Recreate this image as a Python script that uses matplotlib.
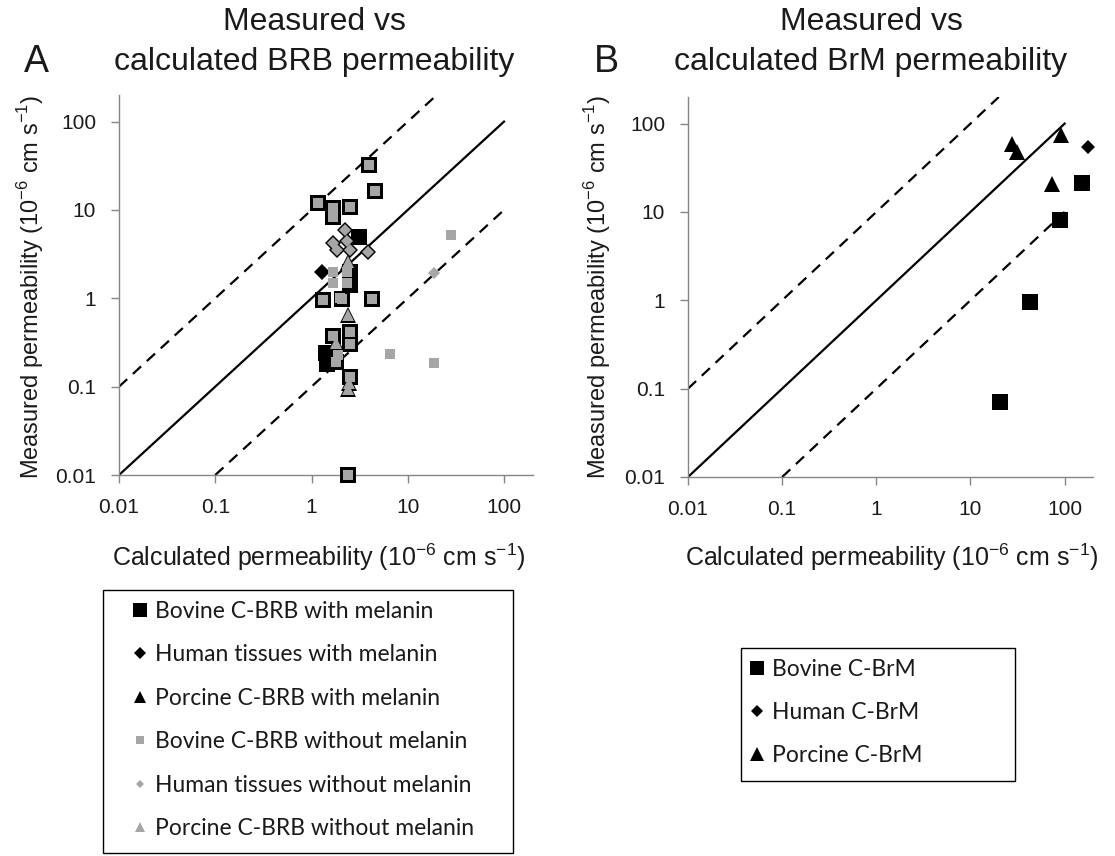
import matplotlib
matplotlib.use("Agg")
import matplotlib.pyplot as plt
from matplotlib.lines import Line2D
from matplotlib.patches import Rectangle
from matplotlib.ticker import FixedLocator, NullLocator, FixedFormatter

plt.rcParams['font.family'] = ['Liberation Sans', 'DejaVu Sans']

# ---------------- data: panel A (BRB) ----------------
bov_mel_x = [4.0, 4.6, 1.17, 1.69, 1.69, 2.5, 4.2, 1.33, 2.06, 1.69, 2.5, 2.5, 1.8, 2.5, 2.41,
             3.1, 1.42, 1.45, 2.5, 2.5]
bov_mel_y = [32, 16.4, 11.9, 10.4, 8.4, 10.7, 0.97, 0.96, 0.97, 0.37, 0.42, 0.30, 0.19, 0.13, 0.01,
             4.9, 0.24, 0.18, 2.0, 1.43]

hum_mel_x = [2.23, 1.69, 2.32, 1.83, 2.5, 3.9, 1.3]
hum_mel_y = [5.9, 4.2, 4.4, 3.5, 3.5, 3.3, 2.0]

por_mel_x = [2.41, 2.41, 1.8, 2.45, 2.4]
por_mel_y = [2.6, 0.65, 0.31, 0.11, 0.095]

bov_nomel_x = [4.0, 4.6, 1.17, 1.69, 1.69, 2.5, 4.2, 1.33, 2.06, 1.69, 2.5, 2.5, 1.8, 2.5, 2.41,
               1.69, 2.33, 1.69, 2.33, 1.98, 1.88, 28, 6.5, 18.7]
bov_nomel_y = [32, 16.4, 11.9, 10.4, 8.4, 10.7, 0.97, 0.96, 0.97, 0.37, 0.42, 0.30, 0.19, 0.13, 0.01,
               2.0, 2.0, 1.49, 1.49, 1.0, 0.23, 5.2, 0.234, 0.184]

hum_nomel_x = [2.23, 1.69, 2.32, 1.83, 2.5, 3.9, 18.7]
hum_nomel_y = [5.9, 4.2, 4.4, 3.5, 3.5, 3.3, 1.95]

por_nomel_x = [2.41, 2.41, 1.8, 2.45, 2.4]
por_nomel_y = [2.6, 0.65, 0.31, 0.11, 0.095]

# ---------------- data: panel B (BrM) ----------------
bov_brm_x = [20.4, 42.5, 89, 151]
bov_brm_y = [0.07, 0.95, 8.2, 21]
hum_brm_x = [179]
hum_brm_y = [55]
por_brm_x = [27.5, 31, 74, 91]
por_brm_y = [59, 48, 20.5, 75]

tick_vals = [0.01, 0.1, 1, 10, 100]
tick_labels = ['0.01', '0.1', '1', '10', '100']

legend_a_labels = ['Bovine C-BRB with melanin', 'Human tissues with melanin',
                   'Porcine C-BRB with melanin', 'Bovine C-BRB without melanin',
                   'Human tissues without melanin', 'Porcine C-BRB without melanin']
legend_b_labels = ['Bovine C-BrM', 'Human C-BrM', 'Porcine C-BrM']

GRAY = '#a6a6a6'
AXCOL = '#868686'
TXT = '#1a1a1a'
W, H = 1115, 856

fig = plt.figure(figsize=(W / 100, H / 100), dpi=100)

axA = fig.add_axes([119 / W, 1 - 475 / H, (533 - 119) / W, (475 - 95) / H])
axB = fig.add_axes([688 / W, 1 - 477 / H, (1093 - 688) / W, (477 - 97) / H])

XLAB = 'Calculated permeability (10$^{\\mathregular{-6}}$ cm s$^{\\mathregular{-1}}$)'
YLAB = 'Measured permeability (10$^{\\mathregular{-6}}$ cm s$^{\\mathregular{-1}}$)'


def style_axes(ax, xlab_pos, ylab_pos):
    ax.set_xscale('log')
    ax.set_yscale('log')
    ax.set_xlim(0.01, 200)
    ax.set_ylim(0.01, 200)
    for s in ['top', 'right']:
        ax.spines[s].set_visible(False)
    for s in ['left', 'bottom']:
        ax.spines[s].set_color(AXCOL)
        ax.spines[s].set_linewidth(1.0)
    ax.xaxis.set_major_locator(FixedLocator(tick_vals))
    ax.yaxis.set_major_locator(FixedLocator(tick_vals))
    ax.xaxis.set_major_formatter(FixedFormatter(tick_labels))
    ax.yaxis.set_major_formatter(FixedFormatter(tick_labels))
    ax.xaxis.set_minor_locator(NullLocator())
    ax.yaxis.set_minor_locator(NullLocator())
    ax.tick_params(axis='both', which='major', length=5.5, width=1.0, color=AXCOL,
                   labelsize=15, labelcolor=TXT)
    ax.tick_params(axis='y', pad=11)
    ax.tick_params(axis='x', pad=11)
    # reference lines
    ax.plot([0.01, 100], [0.01, 100], color='black', lw=1.6, zorder=2)
    ax.plot([0.01, 20], [0.1, 200], color='black', lw=1.6, ls=(0, (5, 3.5)), zorder=2)
    ax.plot([0.1, 100], [0.01, 10], color='black', lw=1.6, ls=(0, (5, 3.5)), zorder=2)
    ax.set_xlabel(XLAB, fontsize=18, color=TXT, va='center')
    ax.set_ylabel(YLAB, fontsize=17, color=TXT, va='center')
    ax.xaxis.set_label_coords(*xlab_pos)
    ax.yaxis.set_label_coords(*ylab_pos)


style_axes(axA, ((319 - 119) / 414, (475 - 557) / 380), ((31 - 119) / 414, (475 - 287) / 380))
style_axes(axB, ((892 - 688) / 405, (477 - 557) / 380), ((598 - 688) / 405, (477 - 287) / 380))

# panel A markers: with melanin (black, larger) under without melanin (gray, smaller)
axA.plot(bov_mel_x, bov_mel_y, ls='None', marker='s', ms=11.5, mfc='black', mec='black', mew=0, zorder=3, clip_on=False)
axA.plot(hum_mel_x, hum_mel_y, ls='None', marker='D', ms=8.3, mfc='black', mec='black', mew=0, zorder=3, clip_on=False)
axA.plot(por_mel_x, por_mel_y, ls='None', marker='^', ms=11, mfc='black', mec='black', mew=0, zorder=3, clip_on=False)
axA.plot(bov_nomel_x, bov_nomel_y, ls='None', marker='s', ms=7.4, mfc=GRAY, mec=GRAY, mew=0, zorder=4, clip_on=False)
axA.plot(hum_nomel_x, hum_nomel_y, ls='None', marker='D', ms=6.2, mfc=GRAY, mec=GRAY, mew=0, zorder=4, clip_on=False)
axA.plot(por_nomel_x, por_nomel_y, ls='None', marker='^', ms=8, mfc=GRAY, mec=GRAY, mew=0, zorder=4, clip_on=False)

# panel B markers
axB.plot(bov_brm_x, bov_brm_y, ls='None', marker='s', ms=11.5, color='black', mew=0, zorder=3, clip_on=False)
axB.plot(hum_brm_x, hum_brm_y, ls='None', marker='D', ms=7, color='black', mew=0, zorder=3, clip_on=False)
axB.plot(por_brm_x, por_brm_y, ls='None', marker='^', ms=12, color='black', mew=0, zorder=3, clip_on=False)

# titles and panel letters
for cx, l2 in [(314, 'calculated BRB permeability'), (871, 'calculated BrM permeability')]:
    fig.text(cx / W, 1 - 22 / H, 'Measured vs', ha='center', va='center', fontsize=23, color=TXT)
    fig.text(cx / W, 1 - 62 / H, l2, ha='center', va='center', fontsize=23, color=TXT)
fig.text(36 / W, 1 - 62 / H, 'A', ha='center', va='center', fontsize=27, color=TXT)
fig.text(606 / W, 1 - 62 / H, 'B', ha='center', va='center', fontsize=27, color=TXT)

# legends (frames drawn as rectangles)
fig.add_artist(Rectangle((103 / W, 1 - 853 / H), 410 / W, 263 / H, transform=fig.transFigure,
                         fill=False, ec='black', lw=1.0))
fig.add_artist(Rectangle((741 / W, 1 - 781 / H), 274 / W, 133 / H, transform=fig.transFigure,
                         fill=False, ec='black', lw=1.0))

handles_a = [
    Line2D([], [], ls='None', marker='s', ms=10, color='black', mew=0),
    Line2D([], [], ls='None', marker='D', ms=6.2, color='black', mew=0),
    Line2D([], [], ls='None', marker='^', ms=9, color='black', mew=0),
    Line2D([], [], ls='None', marker='s', ms=6.2, color=GRAY, mew=0),
    Line2D([], [], ls='None', marker='D', ms=4.2, color=GRAY, mew=0),
    Line2D([], [], ls='None', marker='^', ms=6.5, color=GRAY, mew=0),
]
legA = fig.legend(handles_a, legend_a_labels, loc='upper left',
                  bbox_to_anchor=(131 / W, 1 - 601 / H), borderaxespad=0, frameon=False,
                  handlelength=0.8, handletextpad=0.25, labelspacing=0.98, borderpad=0,
                  prop={'family': 'Lato', 'size': 16.5})
for t in legA.get_texts():
    t.set_color(TXT)

handles_b = [
    Line2D([], [], ls='None', marker='s', ms=10, color='black', mew=0),
    Line2D([], [], ls='None', marker='D', ms=6.5, color='black', mew=0),
    Line2D([], [], ls='None', marker='^', ms=10, color='black', mew=0),
]
legB = fig.legend(handles_b, legend_b_labels, loc='upper left',
                  bbox_to_anchor=(748 / W, 1 - 659 / H), borderaxespad=0, frameon=False,
                  handlelength=0.8, handletextpad=0.25, labelspacing=0.96, borderpad=0,
                  prop={'family': 'Lato', 'size': 16.5})
for t in legB.get_texts():
    t.set_color(TXT)

fig.savefig('out.png', dpi=100)
